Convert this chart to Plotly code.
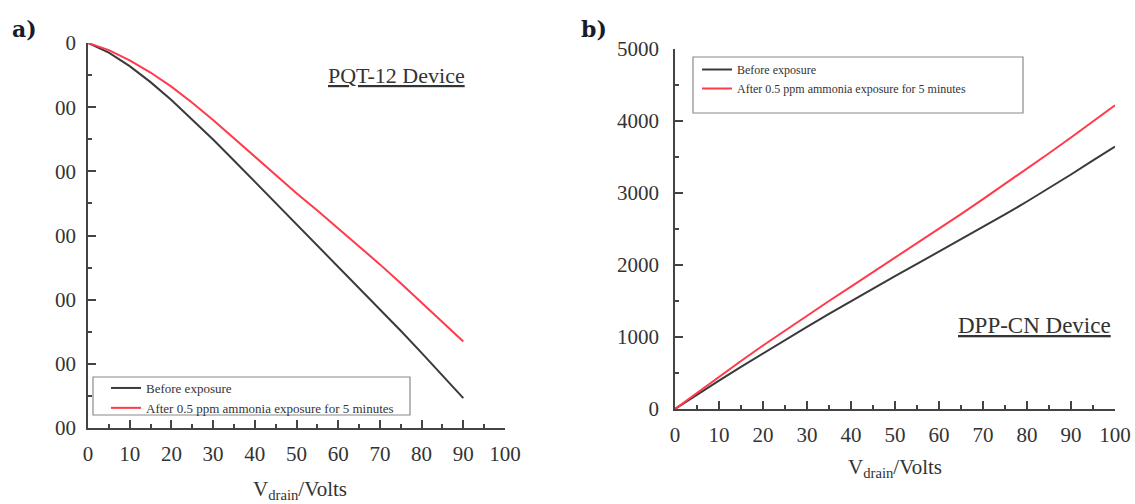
import plotly.graph_objects as go

# Panel a) PQT-12 device: drain current vs drain voltage (negative sweep)
v_a = [0, 5, 10, 15, 20, 25, 30, 35, 40, 45, 50, 55, 60, 65, 70, 75, 80, 85, 90]
i_a_before = [0, -75, -180, -305, -445, -595, -752, -915, -1080, -1245, -1410,
              -1575, -1740, -1905, -2072, -2242, -2415, -2590, -2767]
i_a_after = [0, -55, -135, -230, -340, -465, -600, -742, -887, -1032, -1170,
             -1305, -1443, -1583, -1725, -1872, -2022, -2173, -2326]
a_yticks = [0, -500, -1000, -1500, -2000, -2500, -3000]
a_yticklabels = ["0", "00", "00", "00", "00", "00", "00"]

# Panel b) DPP-CN device
v_b = [0, 5, 10, 15, 20, 25, 30, 35, 40, 45, 50, 55, 60, 65, 70, 75, 80, 85, 90, 95, 100]
i_b_before = [0, 200, 395, 585, 772, 957, 1140, 1320, 1497, 1672, 1845, 2015,
              2185, 2355, 2527, 2702, 2882, 3067, 3257, 3452, 3645]
i_b_after = [0, 225, 447, 667, 882, 1092, 1297, 1500, 1700, 1900, 2100, 2300,
             2502, 2707, 2915, 3125, 3337, 3552, 3770, 3990, 4218]
b_yticks = [0, 1000, 2000, 3000, 4000, 5000]

x_ticks = list(range(0, 101, 10))

label_before = "Before exposure"
label_after = "After 0.5 ppm ammonia exposure for 5 minutes"

BLACK = "#3a3a3a"
RED = "#ff3a4a"
AXIS = "#444444"
SERIF = "Liberation Serif, Times New Roman, serif"

fig = go.Figure()

fig.add_trace(go.Scatter(x=v_a, y=i_a_before, mode="lines", name=label_before,
                         line=dict(color=BLACK, width=2), xaxis="x", yaxis="y",
                         legend="legend", cliponaxis=False))
fig.add_trace(go.Scatter(x=v_a, y=i_a_after, mode="lines", name=label_after,
                         line=dict(color=RED, width=2), xaxis="x", yaxis="y",
                         legend="legend", cliponaxis=False))
fig.add_trace(go.Scatter(x=v_b, y=i_b_before, mode="lines", name=label_before,
                         line=dict(color=BLACK, width=2), xaxis="x2", yaxis="y2",
                         legend="legend2", cliponaxis=False))
fig.add_trace(go.Scatter(x=v_b, y=i_b_after, mode="lines", name=label_after,
                         line=dict(color=RED, width=2), xaxis="x2", yaxis="y2",
                         legend="legend2", cliponaxis=False))

W, H = 1135, 504


def px_x(p):
    return p / W


def px_y(p):
    return 1 - p / H


common_axis = dict(
    showline=True, linecolor=AXIS, linewidth=1.5, mirror=False,
    showgrid=False, zeroline=False, automargin=False,
    ticks="inside", ticklen=8, tickwidth=1.5, tickcolor=AXIS,
    tickfont=dict(family=SERIF, size=21, color="#333333"),
    minor=dict(ticks="inside", ticklen=4, tickwidth=1.5, tickcolor=AXIS),
)

fig.update_layout(
    template="none",
    width=W, height=H, autosize=False,
    margin=dict(l=0, r=0, t=0, b=0, pad=0, autoexpand=False),
    paper_bgcolor="white", plot_bgcolor="white",
    xaxis=dict(domain=[px_x(88), px_x(505)], range=[0, 100], anchor="y",
               tickvals=x_ticks, minor_dtick=5, ticklabelstandoff=6, **common_axis),
    yaxis=dict(domain=[px_y(428), px_y(43)], range=[-3000, 0], anchor="x",
               tickvals=a_yticks, ticktext=a_yticklabels, minor_dtick=250,
               ticklabelstandoff=6, **common_axis),
    xaxis2=dict(domain=[px_x(675), px_x(1115)], range=[0, 100], anchor="y2",
                tickvals=x_ticks, minor_dtick=5, ticklabelstandoff=6, **common_axis),
    yaxis2=dict(domain=[px_y(409), px_y(49)], range=[0, 5000], anchor="x2",
                tickvals=b_yticks, minor_dtick=500, ticklabelstandoff=10, **common_axis),
    legend=dict(x=px_x(106), y=px_y(373), xanchor="left", yanchor="top",
                bgcolor="rgba(0,0,0,0)", borderwidth=0, itemwidth=30,
                tracegroupgap=0, font=dict(family=SERIF, size=13, color="#333333")),
    legend2=dict(x=px_x(697), y=px_y(55), xanchor="left", yanchor="top",
                 bgcolor="rgba(0,0,0,0)", borderwidth=0, itemwidth=30,
                 tracegroupgap=0, font=dict(family=SERIF, size=12, color="#333333")),
    showlegend=True,
)

# Legend frames
fig.add_shape(type="rect", xref="paper", yref="paper",
              x0=px_x(93), x1=px_x(410), y0=px_y(415), y1=px_y(377),
              line=dict(color="#8a8a8a", width=1.2))
fig.add_shape(type="rect", xref="paper", yref="paper",
              x0=px_x(693), x1=px_x(1023), y0=px_y(113), y1=px_y(57),
              line=dict(color="#8a8a8a", width=1.2))

annotations = [
    dict(text="<b>a)</b>", x=px_x(10), y=px_y(29), xanchor="left", yanchor="middle",
         font=dict(family="DejaVu Serif, serif", size=22, color="#1a1a2e")),
    dict(text="<b>b)</b>", x=px_x(579), y=px_y(29), xanchor="left", yanchor="middle",
         font=dict(family="DejaVu Serif, serif", size=22, color="#1a1a2e")),
    dict(text="<u>PQT-12 Device</u>", x=px_x(396), y=px_y(75), xanchor="center",
         yanchor="middle", font=dict(family=SERIF, size=22, color="#333333")),
    dict(text="<u>DPP-CN Device</u>", x=px_x(1034), y=px_y(325), xanchor="center",
         yanchor="middle", font=dict(family=SERIF, size=23, color="#333333")),
    dict(text="V<sub>drain</sub>/Volts", x=px_x(300), y=px_y(490), xanchor="center",
         yanchor="middle", font=dict(family=SERIF, size=21, color="#333333")),
    dict(text="V<sub>drain</sub>/Volts", x=px_x(895), y=px_y(468), xanchor="center",
         yanchor="middle", font=dict(family=SERIF, size=21, color="#333333")),
]
for a in annotations:
    a.update(xref="paper", yref="paper", showarrow=False)
fig.update_layout(annotations=annotations)

fig.write_html("out.html")
